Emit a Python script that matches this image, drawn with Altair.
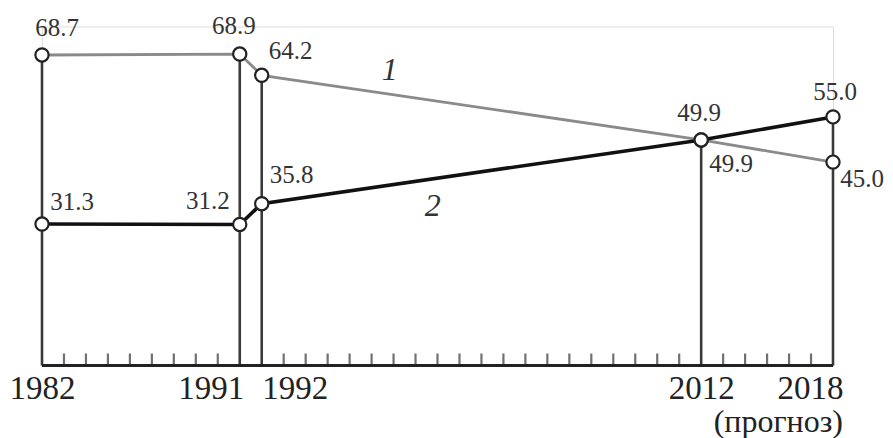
import altair as alt
import pandas as pd

# ---- data ----
years = [1982, 1991, 1992, 2012, 2018]
series1 = [68.7, 68.9, 64.2, 49.9, 45.0]
series2 = [31.3, 31.2, 35.8, 49.9, 55.0]
series_names = ["1", "2"]
tick_label_years = [1982, 1991, 1992, 2012, 2018]
forecast_note = "(прогноз)"

# ---- tables built from the arrays ----
long = pd.DataFrame({
    "year": years * 2,
    "value": series1 + series2,
    "series": [series_names[0]] * len(years) + [series_names[1]] * len(years),
})
tops = pd.DataFrame({"year": years, "top": [max(a, b) for a, b in zip(series1, series2)], "zero": [0] * len(years)})
minor = pd.DataFrame({"year": [y for y in range(years[0] + 1, years[-1]) if y not in years]})
minor["zero"] = 0
base = pd.DataFrame({"x0": [years[0]], "x1": [years[-1]], "zero": [0]})
note = pd.DataFrame({"year": [years[-1]], "zero": [0], "text": [forecast_note]})

SERIF = "Liberation Serif"
xs = alt.Scale(domain=[years[0], years[-1]], nice=False, zero=False)
ys = alt.Scale(domain=[0, 75], nice=False)

x_axis = alt.Axis(
    values=tick_label_years, format="d", title=None, domain=False, ticks=False, tickSize=0,
    grid=False, labelFont=SERIF, labelFontSize=33, labelColor="#222", labelPadding=7,
    labelOverlap=False, labelFlush=False,
    labelAlign={"condition": [
        {"test": "datum.value == 1991 || datum.value == 2018", "value": "right"},
        {"test": "datum.value == 1992", "value": "left"}], "value": "center"},
    labelOffset={"condition": [
        {"test": "datum.value == 2018", "value": 10},
        {"test": "datum.value == 1991", "value": 4}], "value": 0},
)

baseline = alt.Chart(base).mark_rule(color="#222", strokeWidth=3).encode(
    x=alt.X("x0:Q", scale=xs, axis=x_axis),
    x2="x1:Q",
    y=alt.Y("zero:Q", scale=ys, axis=None),
)

verticals = alt.Chart(tops).mark_rule(color="#3a3a3a", strokeWidth=2.6).encode(
    x=alt.X("year:Q", scale=xs),
    y=alt.Y("zero:Q", scale=ys, axis=None),
    y2="top:Q",
)

minor_ticks = alt.Chart(minor).mark_tick(orient="vertical", size=12, thickness=2.2, yOffset=-6, color="#333").encode(
    x=alt.X("year:Q", scale=xs),
    y=alt.Y("zero:Q", scale=ys, axis=None),
)

lines = alt.Chart(long).mark_line().encode(
    x=alt.X("year:Q", scale=xs),
    y=alt.Y("value:Q", scale=ys, axis=None),
    detail="series:N",
    color=alt.Color("series:N", scale=alt.Scale(domain=series_names, range=["#8a8a8a", "#111111"]), legend=None),
    strokeWidth=alt.StrokeWidth("series:N", scale=alt.Scale(domain=series_names, range=[2.8, 3.6]), legend=None),
)

points = alt.Chart(long).mark_point(shape="circle", filled=True, fill="white", stroke="#222",
                                    strokeWidth=2.2, size=175, opacity=1).encode(
    x=alt.X("year:Q", scale=xs),
    y=alt.Y("value:Q", scale=ys, axis=None),
)

# label placement (pixel offsets from each point)
offsets = {
    ("1", 1982): (15, -27), ("1", 1991): (-6, -28), ("1", 1992): (29, -24),
    ("1", 2012): (30, 24), ("1", 2018): (29, 17),
    ("2", 1982): (30, -22), ("2", 1991): (-32, -23), ("2", 1992): (30, -29),
    ("2", 2012): (-2, -27), ("2", 2018): (2, -25),
}
value_labels = []
for (s, yr), (dx, dy) in offsets.items():
    value_labels.append(
        alt.Chart(long).transform_filter(
            f"datum.series == '{s}' && datum.year == {yr}"
        ).mark_text(font=SERIF, fontSize=25, color="#333", dx=dx, dy=dy,
                    align="center", baseline="middle").encode(
            x=alt.X("year:Q", scale=xs),
            y=alt.Y("value:Q", scale=ys, axis=None),
            text=alt.Text("value:Q", format=".1f"),
        )
    )

series_offsets = {"1": (128, -5), "2": (171, 2)}
series_labels = []
for s, (dx, dy) in series_offsets.items():
    series_labels.append(
        alt.Chart(long).transform_filter(
            f"datum.series == '{s}' && datum.year == 1992"
        ).mark_text(font=SERIF, fontSize=32, fontStyle="italic", color="#333", dx=dx, dy=dy,
                    align="center", baseline="middle").encode(
            x=alt.X("year:Q", scale=xs),
            y=alt.Y("value:Q", scale=ys, axis=None),
            text="series:N",
        )
    )

note_text = alt.Chart(note).mark_text(font=SERIF, fontSize=32, color="#222", align="right",
                                      baseline="alphabetic", dx=10, dy=66).encode(
    x=alt.X("year:Q", scale=xs),
    y=alt.Y("zero:Q", scale=ys, axis=None),
    text="text:N",
)

chart = alt.layer(
    verticals, lines, minor_ticks, baseline, points, *value_labels, *series_labels, note_text
).properties(
    width=791, height=339,
    autosize=alt.AutoSizeParams(type="none"),
    padding={"left": 34, "top": 18.5, "right": 52, "bottom": 73},
).configure_view(stroke=None).configure(background="white", font=SERIF).configure_text(font=SERIF)

chart.save("out.html", embed_options={"renderer": "svg", "actions": False})
